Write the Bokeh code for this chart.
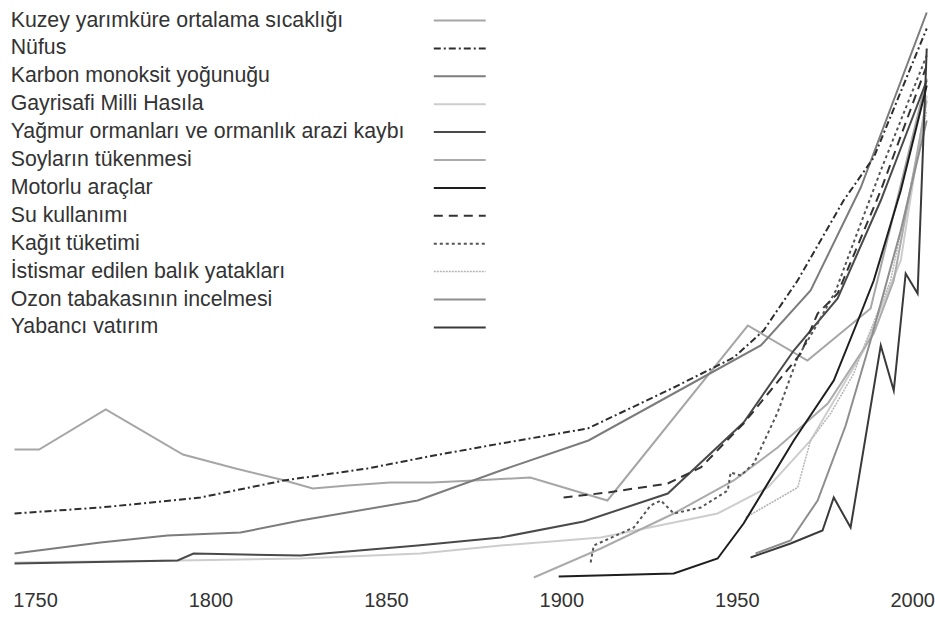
from bokeh.plotting import figure
from bokeh.models import Range1d, FixedTicker, ColumnDataSource
from bokeh.core.properties import value
from bokeh.embed import file_html
from bokeh.resources import INLINE

# ---------------- data ----------------
series_names = [
    "Kuzey yarımküre ortalama sıcaklığı",
    "Nüfus",
    "Karbon monoksit yoğunuğu",
    "Gayrisafi Milli Hasıla",
    "Yağmur ormanları ve ormanlık arazi kaybı",
    "Soyların tükenmesi",
    "Motorlu araçlar",
    "Su kullanımı",
    "Kağıt tüketimi",
    "İstismar edilen balık yatakları",
    "Ozon tabakasının incelmesi",
    "Yabancı vatırım",
]

tick_years = [1750, 1800, 1850, 1900, 1950, 2000]

kuzey_years = [1744, 1751, 1770, 1792, 1807, 1821, 1829, 1839, 1851, 1863, 1875, 1891, 1913, 1953, 1970, 1988, 2004]
kuzey_vals = [27.2, 27.2, 35.2, 26.2, 23.4, 21.0, 19.4, 20.0, 20.6, 20.6, 21.0, 21.6, 17.0, 52.0, 45.0, 55.4, 101.4]

nufus_years = [1744, 1768.5, 1797, 1820.7, 1844.6, 1863.5, 1882.6, 1907.4, 1931.9, 1949, 1957.5, 1967.2, 1980.3, 1988.9, 2004]
nufus_vals = [14.4, 15.6, 17.6, 21.0, 23.4, 26.0, 28.4, 31.4, 39.6, 45.6, 51.0, 61.0, 77.0, 85.6, 111.4]

karbon_years = [1744, 1768.5, 1787.6, 1808.4, 1825.5, 1858.9, 1882.6, 1907.6, 1939.6, 1956.7, 1970.9, 1985.2, 2004]
karbon_vals = [6.4, 8.6, 10.0, 10.6, 13.0, 17.0, 23.0, 29.0, 41.4, 48.0, 59.0, 79.6, 114.6]

gsmh_years = [1744, 1791.3, 1825.5, 1859.7, 1882.6, 1911.1, 1944.4, 1958.7, 1970.9, 1986.0, 1996.6, 2004]
gsmh_vals = [4.6, 5.0, 5.4, 6.4, 8.0, 9.6, 14.4, 19.6, 29.0, 47.0, 65.0, 98.0]

yagmur_years = [1744, 1790.5, 1795.0, 1825.5, 1858.9, 1882.6, 1906.2, 1930.2, 1951.8, 1966.1, 1978.6, 1990.9, 2004]
yagmur_vals = [4.4, 5.0, 6.4, 6.0, 8.0, 9.6, 12.8, 18.4, 32.6, 47.0, 57.4, 77.0, 101.0]

soy_years = [1892.0, 1911.1, 1931.9, 1949.0, 1961.5, 1975.8, 1988.9, 1994.6, 2004]
soy_vals = [1.6, 7.4, 14.4, 21.0, 27.6, 36.4, 50.4, 61.0, 97.0]

motor_years = [1899.1, 1931.9, 1944.4, 1951.8, 1966.1, 1977.5, 1985.2, 1988.9, 1996.6, 2004]
motor_vals = [1.8, 2.4, 5.4, 12.4, 29.0, 41.0, 54.4, 61.0, 79.0, 100.0]

su_years = [1900.5, 1913.1, 1930.2, 1939.6, 1951.8, 1968.1, 1972.9, 1978.6, 1990.9, 2004]
su_vals = [17.6, 18.6, 20.4, 23.6, 32.4, 46.4, 54.4, 58.4, 79.0, 104.0]

kagit_years = [1908.2, 1909.1, 1920.5, 1925.3, 1928.2, 1931.9, 1939.6, 1947.3, 1948.1, 1951.0, 1954.7, 1961.5, 1967.2, 1972.9, 1978.1, 1982.3, 1990.9, 2004]
kagit_vals = [4.6, 8.0, 11.6, 16.0, 17.0, 14.4, 15.6, 19.0, 22.6, 22.0, 24.4, 34.6, 45.6, 52.4, 59.0, 67.0, 83.0, 106.0]

balik_years = [1952.4, 1967.2, 1970.9, 1976.6, 1983.2, 1986.0, 1993.7, 2004]
balik_vals = [13.6, 19.6, 29.0, 34.4, 42.4, 47.6, 61.0, 95.0]

ozon_years = [1955.2, 1965.2, 1972.9, 1980.9, 1988.0, 1996.6, 2004]
ozon_vals = [6.4, 9.0, 17.0, 32.0, 49.0, 71.0, 93.0]

yabanci_years = [1953.8, 1965.2, 1974.3, 1977.5, 1982.3, 1990.9, 1994.6, 1998.0, 2001.4, 2004]
yabanci_vals = [5.6, 8.4, 11.0, 17.6, 11.6, 48.0, 39.0, 62.4, 58.4, 107.4]

all_years = [kuzey_years, nufus_years, karbon_years, gsmh_years, yagmur_years, soy_years,
             motor_years, su_years, kagit_years, balik_years, ozon_years, yabanci_years]
all_vals = [kuzey_vals, nufus_vals, karbon_vals, gsmh_vals, yagmur_vals, soy_vals,
            motor_vals, su_vals, kagit_vals, balik_vals, ozon_vals, yabanci_vals]

# ---------------- styles ----------------
colors = ["#a6a6a6", "#2e2e2e", "#7c7c7c", "#cdcdcd", "#4a4a4a", "#ababab",
          "#1e1e1e", "#333333", "#555555", "#b5b5b5", "#8e8e8e", "#3a3a3a"]
dashes = ["solid", "7 3 2 3", "solid", "solid", "solid", "solid",
          "solid", "9 6", "3 3", "2 1", "solid", "solid"]
widths = [2, 2, 2, 2, 2, 2, 2, 2, 2, 1.5, 2, 2]

FONT = "Liberation Sans"

p = figure(width=935, height=619, output_backend="svg", toolbar_location=None,
           x_range=Range1d(1740.0, 2006.5), y_range=Range1d(0, 117),
           min_border_left=0, min_border_right=0, min_border_top=0, min_border_bottom=34)
p.outline_line_color = None
p.grid.visible = False
p.yaxis.visible = False
p.background_fill_color = "white"
p.border_fill_color = "white"

ax = p.xaxis[0]
ax.ticker = FixedTicker(ticks=tick_years)
ax.axis_line_color = None
ax.major_tick_line_color = None
ax.minor_tick_line_color = None
ax.major_label_standoff = 1
ax.major_label_text_font = FONT
ax.major_label_text_font_size = "20px"
ax.major_label_text_color = "#333333"

draw_order = [3, 5, 9, 0, 10, 2, 4, 8, 7, 1, 11, 6]
for i in draw_order:
    p.line(all_years[i], all_vals[i], line_color=colors[i], line_width=widths[i],
           line_dash=dashes[i], line_join="miter")

# legend (text on the left, sample line on the right)
row_top = 113.2
row_step = 5.58
text_x = 1742.9
samp_x0, samp_x1 = 1863.5, 1878.3
rows_y = [row_top - row_step * k for k in range(len(series_names))]
src = ColumnDataSource(dict(x=[text_x] * len(series_names), y=rows_y, t=series_names))
p.text(x="x", y="y", text="t", source=src, text_font=value(FONT), text_font_size="21.3px",
       text_color="#333333", text_baseline="alphabetic", text_align="left")
for k in range(len(series_names)):
    yy = rows_y[k] - 0.2
    p.line([samp_x0, samp_x1], [yy, yy], line_color=colors[k], line_width=widths[k],
           line_dash=dashes[k])

open("out.html", "w").write(file_html(p, INLINE))
